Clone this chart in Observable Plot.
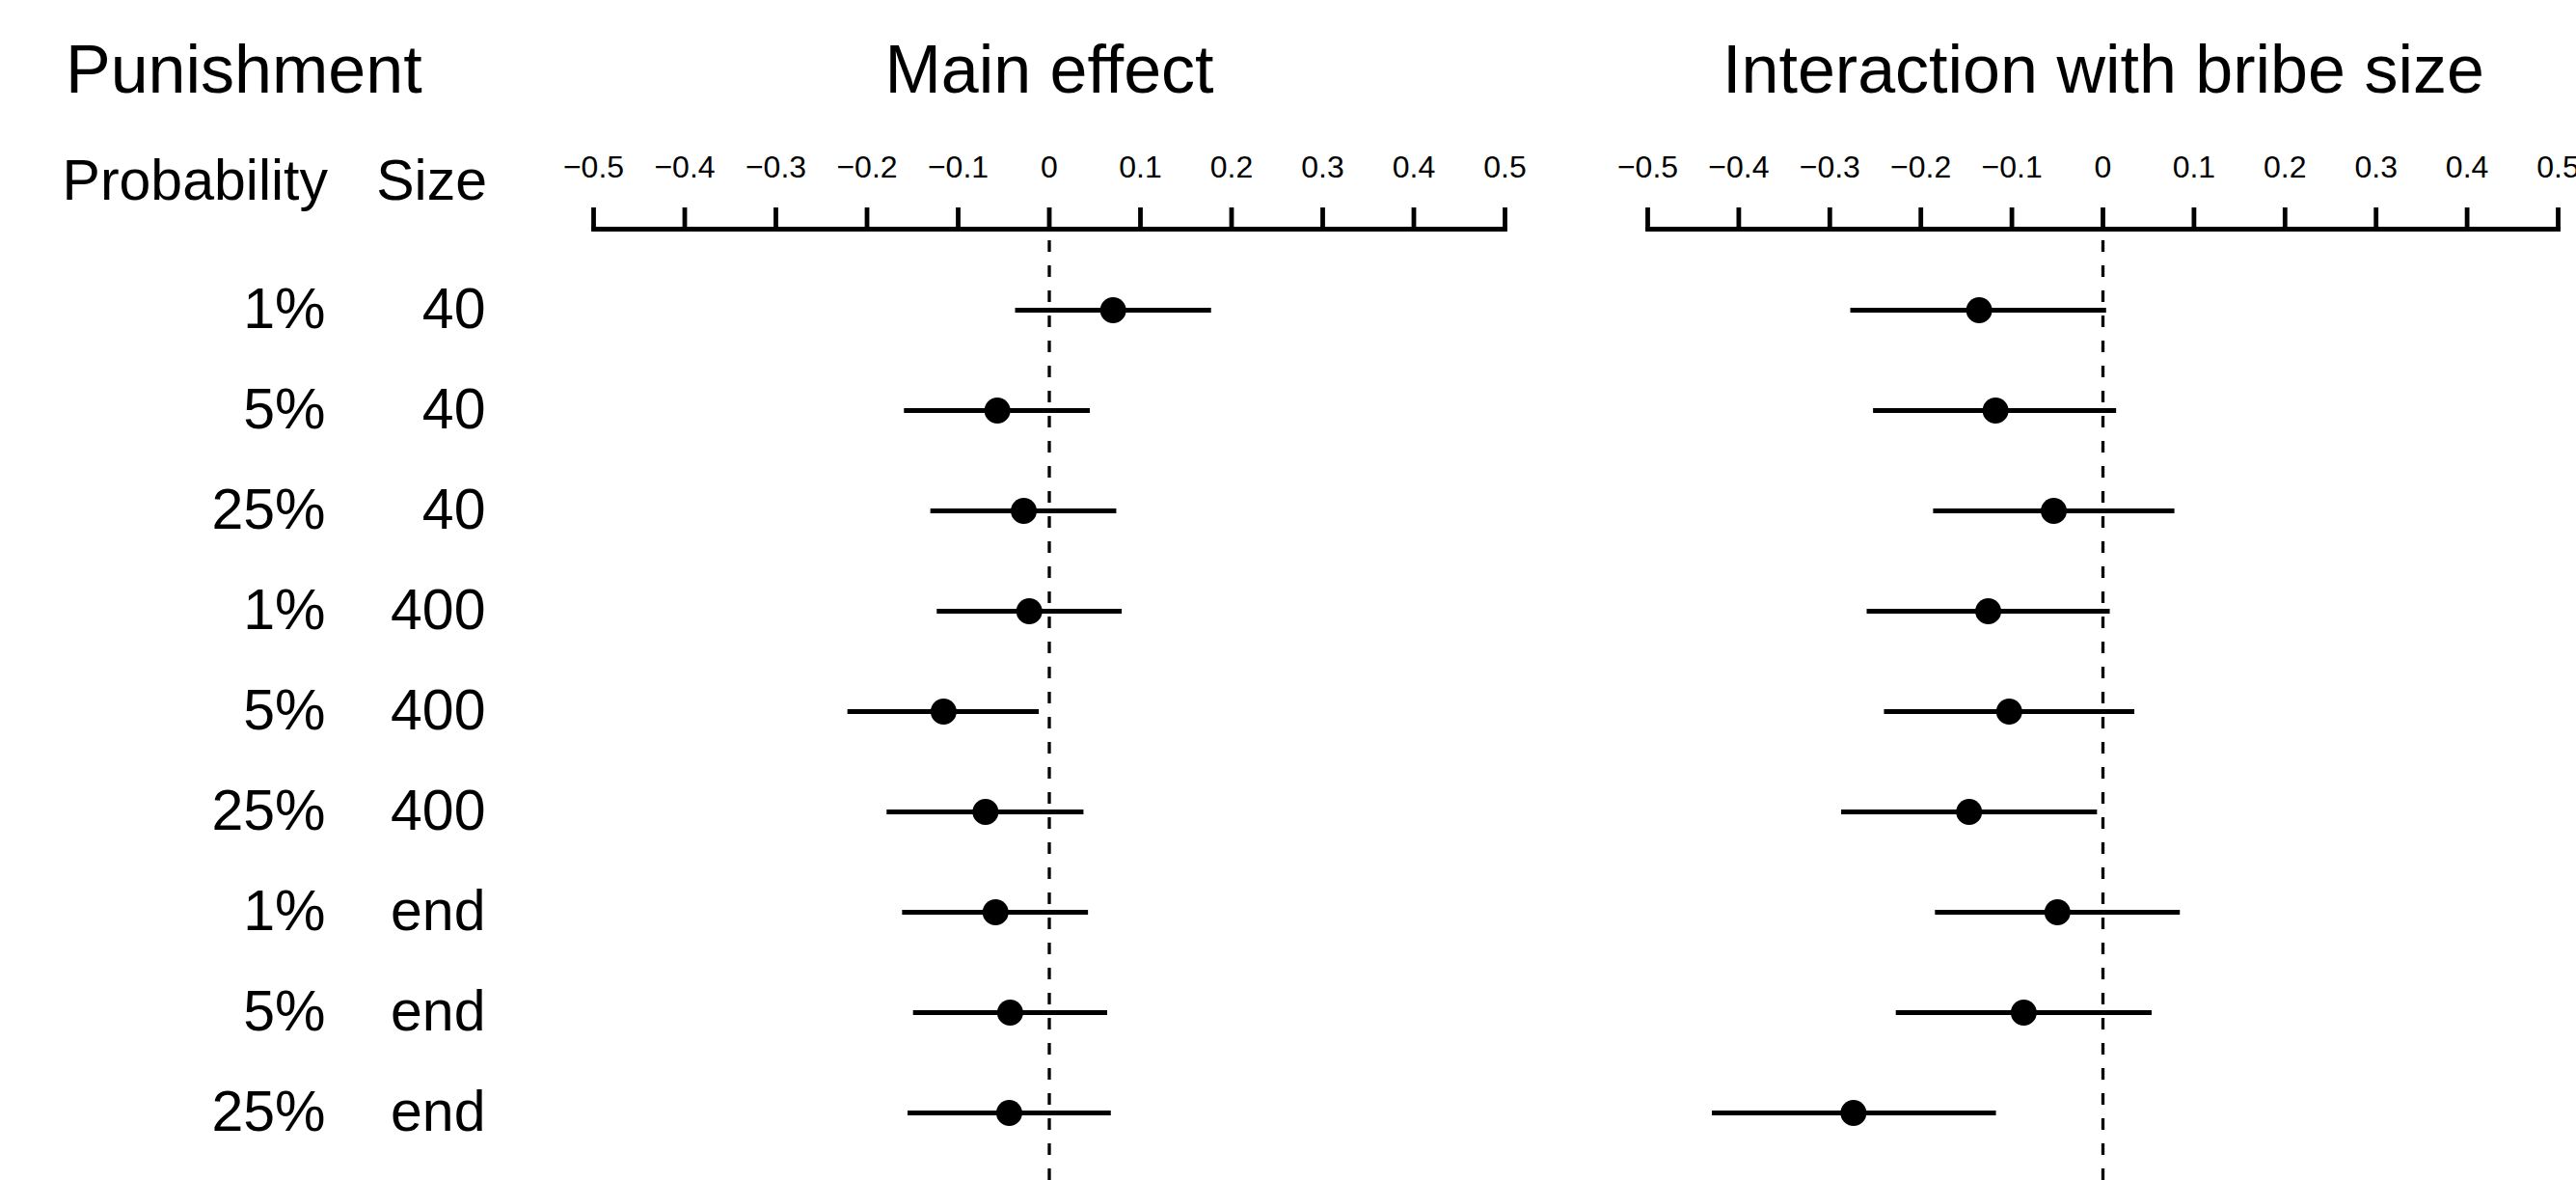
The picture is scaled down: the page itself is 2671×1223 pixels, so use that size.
<!DOCTYPE html>
<html>
<head>
<meta charset="utf-8">
<script src="https://cdn.jsdelivr.net/npm/d3@7"></script>
<script src="https://cdn.jsdelivr.net/npm/@observablehq/plot@0.6"></script>
<style>
  html, body { margin: 0; padding: 0; background: #fff; }
  #chart { position: relative; width: 2671px; height: 1223px; background: #fff; overflow: hidden;
           font-family: "Liberation Sans", Arial, Helvetica, sans-serif; color: #000; }
  .pane { position: absolute; top: 0; }
  .hdr { position: absolute; white-space: nowrap; line-height: 1; color: #000; }
</style>
</head>
<body>
<div id="chart"></div>
<script>
// ---------------- data ----------------
const probability = ["1%", "5%", "25%", "1%", "5%", "25%", "1%", "5%", "25%"];
const bribeSize   = ["40", "40", "40", "400", "400", "400", "end", "end", "end"];

const mainEst = [0.070, -0.057, -0.028, -0.022, -0.116, -0.070, -0.059, -0.043, -0.044];
const mainLo  = [-0.037, -0.159, -0.130, -0.123, -0.221, -0.178, -0.161, -0.149, -0.155];
const mainHi  = [0.178, 0.045, 0.074, 0.080, -0.011, 0.038, 0.043, 0.064, 0.068];

const interEst = [-0.136, -0.118, -0.054, -0.126, -0.103, -0.147, -0.050, -0.087, -0.274];
const interLo  = [-0.277, -0.252, -0.186, -0.259, -0.240, -0.287, -0.184, -0.227, -0.429];
const interHi  = [0.004, 0.015, 0.079, 0.008, 0.035, -0.006, 0.085, 0.054, -0.117];

const tickValues = [-0.5, -0.4, -0.3, -0.2, -0.1, 0, 0.1, 0.2, 0.3, 0.4, 0.5];
const tickLabels = ["\u22120.5", "\u22120.4", "\u22120.3", "\u22120.2", "\u22120.1", "0", "0.1", "0.2", "0.3", "0.4", "0.5"];

const panelTitles = ["Main effect", "Interaction with bribe size"];
const groupTitle = "Punishment";
const columnHeads = ["Probability", "Size"];

// --------------- build ----------------
const rowIds = probability.map((p, i) => `${p}|${bribeSize[i]}`);
const mainRows = rowIds.map((id, i) => ({id, est: mainEst[i], lo: mainLo[i], hi: mainHi[i]}));
const interRows = rowIds.map((id, i) => ({id, est: interEst[i], lo: interLo[i], hi: interHi[i]}));

const FONT = '"Liberation Sans", Arial, Helvetica, sans-serif';
const H = 1223;
const yScale = {type: "point", domain: rowIds, range: [318, 1156], padding: 0, axis: null};
const LW = 4.8;

const chart = document.getElementById("chart");

function addPane(node, left) {
  node.classList.add("pane");
  node.style.left = left + "px";
  chart.appendChild(node);
}

function panel(rows, width, mLeft, mRight) {
  return Plot.plot({
    width, height: H,
    marginTop: 237, marginBottom: 0, marginLeft: mLeft, marginRight: mRight,
    style: {fontFamily: FONT, color: "#000", background: "transparent", overflow: "visible"},
    x: {domain: [-0.5, 0.5], axis: null},
    y: yScale,
    marks: [
      Plot.ruleX([0], {stroke: "#000", strokeWidth: 3.3, strokeDasharray: "12,14", insetTop: 12}),
      Plot.frame({anchor: "top", stroke: "#000", strokeWidth: LW}),
      Plot.axisX({
        anchor: "top", ticks: tickValues,
        tickFormat: d => tickLabels[tickValues.findIndex(t => Math.abs(t - d) < 1e-9)],
        tickSize: 23, tickPadding: 31, fontSize: 32, strokeWidth: LW, label: null
      }),
      Plot.ruleY(rows, {y: "id", x1: "lo", x2: "hi", stroke: "#000", strokeWidth: LW}),
      Plot.dot(rows, {x: "est", y: "id", r: 13.5, fill: "#000", stroke: "none"})
    ]
  });
}

// labels pane
const labelRows = rowIds.map((id, i) => ({id, prob: probability[i], size: bribeSize[i]}));
const labels = Plot.plot({
  width: 560, height: H, margin: 0,
  style: {fontFamily: FONT, color: "#000", background: "transparent", overflow: "visible"},
  x: {type: "point", domain: columnHeads, range: [337, 503], padding: 0, axis: null},
  y: yScale,
  marks: [
    Plot.text(labelRows, {x: () => columnHeads[0], y: "id", text: "prob", textAnchor: "end", fontSize: 59, dy: 0, fill: "#000"}),
    Plot.text(labelRows, {x: () => columnHeads[1], y: "id", text: "size", textAnchor: "end", fontSize: 59, dy: 0, fill: "#000"})
  ]
});
addPane(labels, 0);
addPane(panel(mainRows, 1100, 55, 100), 560);
addPane(panel(interRows, 1011, 48, 19), 1660);

// headers (HTML text)
function hdr(text, opts) {
  const d = document.createElement("div");
  d.className = "hdr";
  d.textContent = text;
  d.style.fontSize = opts.size + "px";
  d.style.top = opts.top + "px";
  if (opts.center != null) {
    d.style.left = (opts.center - 700) + "px";
    d.style.width = "1400px";
    d.style.textAlign = "center";
  } else if (opts.right != null) {
    d.style.left = (opts.right - 600) + "px";
    d.style.width = "600px";
    d.style.textAlign = "right";
  } else {
    d.style.left = opts.left + "px";
  }
  chart.appendChild(d);
}
hdr(groupTitle, {size: 70, top: 37, left: 68});
hdr(panelTitles[0], {size: 70, top: 37, center: 1088});
hdr(panelTitles[1], {size: 70, top: 37, center: 2181});
hdr(columnHeads[0], {size: 59, top: 158, right: 340});
hdr(columnHeads[1], {size: 59, top: 158, right: 505});
</script>
</body>
</html>
